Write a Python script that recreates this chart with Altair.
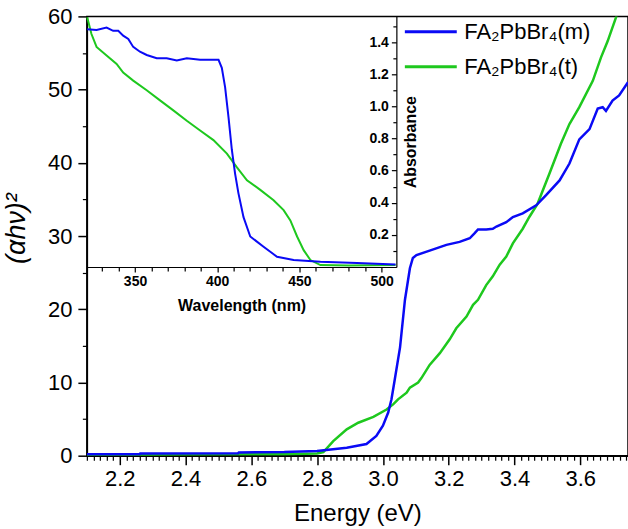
import altair as alt
import pandas as pd

# ---------------- data ----------------
series = ["FA₂PbBr₄(m)", "FA₂PbBr₄(t)"]
series_colors = ["#0a0af5", "#1ec81e"]

# main panel: (alpha h nu)^2 vs photon energy
energy_m = [2.10, 2.26, 2.262, 2.56, 2.562, 2.70, 2.80, 2.89, 2.95, 2.98, 3.00,
            3.016, 3.026, 3.036, 3.052, 3.067, 3.082, 3.091, 3.102, 3.142, 3.193,
            3.233, 3.264, 3.279, 3.289, 3.314, 3.334, 3.345, 3.375, 3.395, 3.425,
            3.466, 3.496, 3.537, 3.567, 3.597, 3.628, 3.653, 3.668, 3.678, 3.698,
            3.718, 3.745]
ahv2_m = [0.2, 0.2, 0.3, 0.35, 0.45, 0.5, 0.65, 1.1, 1.6, 2.7, 4.1,
          5.9, 7.7, 10.4, 14.8, 21.3, 25.6, 27.0, 27.4, 28.0, 28.8,
          29.2, 29.7, 30.4, 30.9, 30.9, 31.0, 31.3, 31.9, 32.6, 33.1,
          34.2, 35.6, 37.6, 39.9, 43.2, 44.6, 47.4, 47.6, 47.1, 48.5,
          49.2, 51.0]

energy_t = [2.10, 2.40, 2.70, 2.80, 2.819, 2.849, 2.89, 2.925, 2.971, 3.011,
            3.031, 3.046, 3.072, 3.082, 3.107, 3.117, 3.142, 3.173, 3.203, 3.223,
            3.254, 3.274, 3.289, 3.314, 3.334, 3.355, 3.375, 3.395, 3.425, 3.445,
            3.47, 3.506, 3.541, 3.567, 3.597, 3.638, 3.663, 3.683, 3.708, 3.72]
ahv2_t = [0.1, 0.15, 0.2, 0.3, 0.5, 2.0, 3.6, 4.5, 5.3, 6.3,
          7.0, 7.7, 8.6, 9.3, 10.0, 10.6, 12.4, 14.0, 15.9, 17.4,
          19.0, 20.6, 21.3, 23.3, 24.5, 26.1, 27.2, 29.0, 31.0, 32.6,
          34.4, 38.5, 42.6, 45.3, 47.6, 51.2, 54.4, 56.6, 59.8, 61.5]

# inset: absorbance vs wavelength
wl_m = [320.9, 326.6, 332.7, 336.7, 339.8, 342.8, 345.9, 348.9, 353.0, 357.1,
        363.2, 369.3, 375.4, 381.5, 389.6, 397.7, 400.8, 402.8, 404.8, 406.9,
        408.9, 410.9, 412.9, 416.0, 420.1, 428.2, 436.4, 446.5, 462.8, 485.0, 508.5]
abs_m = [1.48, 1.475, 1.49, 1.47, 1.47, 1.44, 1.42, 1.37, 1.34, 1.32,
         1.30, 1.30, 1.285, 1.30, 1.29, 1.29, 1.29, 1.24, 1.12, 0.93,
         0.73, 0.58, 0.46, 0.31, 0.19, 0.126, 0.064, 0.043, 0.033, 0.025, 0.015]

wl_t = [320.9, 323.5, 326.6, 332.7, 338.8, 342.8, 348.9, 357.1, 365.2, 373.3,
        381.5, 389.6, 397.7, 405.9, 412.0, 418.1, 426.2, 434.3, 440.4, 444.5,
        448.6, 452.6, 456.7, 462.8, 480.0, 508.5]
abs_t = [1.555, 1.45, 1.37, 1.316, 1.264, 1.21, 1.16, 1.10, 1.037, 0.975,
         0.91, 0.85, 0.79, 0.706, 0.62, 0.54, 0.48, 0.416, 0.354, 0.29,
         0.19, 0.105, 0.043, 0.012, 0.010, 0.012]

# tick positions (major + minor, majors are labelled)
energy_ticks = [round(2.10 + 0.02 * i, 2) for i in range(83)]
ahv2_ticks = [0, 5, 10, 15, 20, 25, 30, 35, 40, 45, 50, 55, 60]
wl_ticks = [330, 340, 350, 360, 370, 380, 390, 400, 410, 420, 430, 440, 450,
            460, 470, 480, 490, 500]
abs_ticks = [0.1, 0.2, 0.3, 0.4, 0.5, 0.6, 0.7, 0.8, 0.9, 1.0, 1.1, 1.2, 1.3, 1.4, 1.5]

main_m = pd.DataFrame({"energy": energy_m, "val": ahv2_m, "sample": series[0]})
main_t = pd.DataFrame({"energy": energy_t, "val": ahv2_t, "sample": series[1]})
ins_m = pd.DataFrame({"wl": wl_m, "A": abs_m, "sample": series[0]})
ins_t = pd.DataFrame({"wl": wl_t, "A": abs_t, "sample": series[1]})

# ---------------- layout ----------------
W, H = 542, 440          # main plot area
IW, IH = 310, 251        # inset plot area
FONT = "Liberation Sans"

x_main = alt.Scale(domain=[2.10, 3.745], nice=False, zero=False)
y_main = alt.Scale(domain=[0, 60], nice=False)
x_ins = alt.Scale(domain=[320.7, 509.0], nice=False, zero=False, range=[0, IW])
y_ins = alt.Scale(domain=[0, 1.56], nice=False, range=[IH, 0])

legend = alt.Legend(
    title=None, orient="none", legendX=333, legendY=4,
    symbolType="M-2.6,0H2.6", symbolSize=400, symbolStrokeWidth=3,
    labelFontSize=22, labelFont=FONT, labelColor="black",
    padding=0, rowPadding=12, labelOffset=22,
)
color = alt.Color("sample:N", scale=alt.Scale(domain=series, range=series_colors), legend=legend)

axis_common = dict(grid=False, domainColor="black", tickColor="black", labelOverlap=False,
                   labelColor="black", titleColor="black", labelFont=FONT, titleFont=FONT)

E_MAJOR = "abs(datum.value*5 - round(datum.value*5)) < 0.001"
Y_MAJOR = "datum.value % 10 == 0"
WL_MAJOR = "datum.value % 50 == 0"
A_MAJOR = "abs(datum.value*5 - round(datum.value*5)) < 0.001"


def cond(test, a, b):
    return {"condition": {"test": test, "value": a}, "value": b}


main_t_layer = alt.Chart(main_t).mark_line(strokeWidth=2.5, clip=True).encode(
    x=alt.X("energy:Q", scale=x_main, axis=alt.Axis(
        orient="bottom", values=energy_ticks, title="Energy (eV)",
        labelExpr=f"({E_MAJOR}) ? format(datum.value, '.1f') : ''",
        labelFontSize=22, titleFontSize=24, titleFontWeight="normal",
        tickSize=cond(E_MAJOR, 9, 4.5), tickWidth=cond(E_MAJOR, 1.5, 1.2),
        domainWidth=1.5, labelPadding=4, titlePadding=12,
        **axis_common)),
    y=alt.Y("val:Q", scale=y_main, axis=alt.Axis(
        orient="left", values=ahv2_ticks, title="(αhν)²",
        labelExpr=f"({Y_MAJOR}) ? datum.label : ''",
        labelFontSize=22, titleFontSize=27, titleFontWeight="normal", titleFontStyle="italic",
        titleX=-56, titleY=212,
        tickSize=cond(Y_MAJOR, 9, 4.5), tickWidth=cond(Y_MAJOR, 1.5, 1.2),
        domainWidth=1.5, labelPadding=6,
        **axis_common)),
    color=color,
)

main_m_layer = alt.Chart(main_m).mark_line(strokeWidth=2.5, clip=True).encode(
    x=alt.X("energy:Q", scale=x_main, axis=None),
    y=alt.Y("val:Q", scale=y_main, axis=None),
    color=color,
)

ins_t_layer = alt.Chart(ins_t).mark_line(strokeWidth=2).encode(
    x=alt.X("wl:Q", scale=x_ins, axis=alt.Axis(
        orient="bottom", offset=-(H - IH), values=wl_ticks, title="Wavelength (nm)",
        labelExpr=f"({WL_MAJOR}) ? datum.label : ''",
        labelFontSize=14, labelFontWeight="bold", titleFontSize=16, titleFontWeight="bold",
        tickSize=cond(WL_MAJOR, 5, 4), tickWidth=1.2, domainWidth=1.2,
        labelPadding=3, titlePadding=9,
        **axis_common)),
    y=alt.Y("A:Q", scale=y_ins, axis=alt.Axis(
        orient="left", offset=-IW, values=abs_ticks, title="Absorbance",
        labelExpr=f"({A_MAJOR}) ? format(datum.value, '.1f') : ''",
        labelFontSize=14, labelFontWeight="bold", titleFontSize=16, titleFontWeight="bold",
        titleX=22, tickSize=cond(A_MAJOR, 5, 3.5), tickWidth=1.2, domainWidth=1.2,
        labelPadding=3,
        **axis_common)),
    color=color,
)

ins_m_layer = alt.Chart(ins_m).mark_line(strokeWidth=2).encode(
    x=alt.X("wl:Q", scale=x_ins, axis=None),
    y=alt.Y("A:Q", scale=y_ins, axis=None),
    color=color,
)

chart = alt.layer(main_t_layer, main_m_layer, ins_t_layer, ins_m_layer).resolve_scale(
    x="independent", y="independent", color="shared"
).resolve_axis(
    x="independent", y="independent"
).properties(
    width=W, height=H,
    autosize=alt.AutoSizeParams(type="none"),
    padding={"left": 87, "top": 16, "right": 0, "bottom": 73},
    background="white",
).configure_view(stroke="black", strokeWidth=1.5)

chart.save("out.html", embed_options={"renderer": "svg", "actions": False})
